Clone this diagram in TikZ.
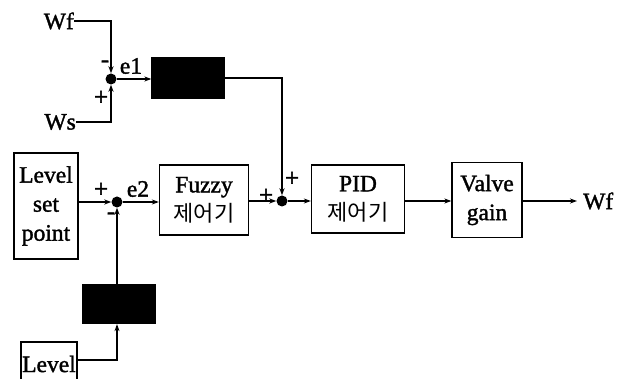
\documentclass[tikz,border=0pt]{standalone}
\usepackage{fontspec}
\setmainfont[FakeBold=1.5,AutoFakeBold=1.5]{Liberation Serif}
\newfontfamily\kr{Noto Sans CJK KR}
\usetikzlibrary{arrows.meta}
\begin{document}
\begin{tikzpicture}[x=1pt,y=-1pt,
  every node/.style={font=\fontsize{23.5}{29}\selectfont},
  blk/.style={draw,line width=1.3pt,align=center,inner sep=0pt},
  blackbox/.style={draw,fill=black,line width=1.3pt,inner sep=0pt,minimum width=72pt,minimum height=40pt},
  sumpt/.style={circle,fill=black,inner sep=0pt,minimum size=11pt},
  lbl/.style={inner sep=0pt},
  sgn/.style={inner sep=0pt,font=\fontsize{25}{25}\selectfont},
  arr/.style={line width=1.3pt,-{Stealth[length=7pt,width=5pt]}},
  ln/.style={line width=1.3pt}]
\useasboundingbox (0,0) rectangle (621,379);
\clip (0,0) rectangle (621,379);
% nodes
\node[lbl,anchor=east] (wfin) at (74,21) {Wf};
\node[lbl,anchor=east] (wsin) at (76,122) {Ws};
\node[sumpt] (sum1) at (111,79) {};
\node[blackbox] (box1) at (188,78) {};
\node[blk,minimum width=64pt,minimum height=106pt] (lsp) at (46,206) {Level\\set\\point};
\node[sumpt] (sum2) at (117,202) {};
\node[blk,minimum width=89pt,minimum height=70pt] (fuzzy) at (204,200) {Fuzzy\\{\kr\fontsize{22}{29}\selectfont 제어기}};
\node[sumpt] (sum3) at (282,201) {};
\node[blk,minimum width=93pt,minimum height=68pt] (pid) at (358,199) {PID\\{\kr\fontsize{22}{29}\selectfont 제어기}};
\node[blk,minimum width=70pt,minimum height=75pt] (valve) at (487,200) {Valve\\gain};
\node[lbl,anchor=west] (wfout) at (583,201) {Wf};
\node[blackbox,minimum height=39pt] (box2) at (119,304) {};
\node[blk,minimum width=56pt,minimum height=44pt] (level) at (49,364) {Level};
% labels
\node[lbl] (e1) at (131,66) {e1};
\node[lbl] (e2) at (138,189) {e2};
\node[sgn] (p1) at (101,98) {+};
\node[sgn] (m1) at (105,64) {-};
\node[sgn] (p2) at (101,190) {+};
\node[sgn] (m2) at (111,216) {-};
\node[sgn] (p3) at (266,196) {+};
\node[sgn] (p4) at (292,179) {+};
% connectors
\draw[arr] (wfin.east) -| (sum1.north);
\draw[arr] (wsin.east) -| (sum1.south);
\draw[arr] (sum1.east) -- (box1.west |- sum1);
\draw[arr] (box1.east) -| (sum3.north);
\draw[arr] (lsp.east |- sum2) -- (sum2.west);
\draw[arr] (sum2.east) -- (fuzzy.west |- sum2);
\draw[arr] (fuzzy.east |- sum3) -- (sum3.west);
\draw[arr] (sum3.east) -- (pid.west |- sum3);
\draw[arr] (pid.east |- sum3) -- (valve.west |- sum3);
\draw[arr,shorten >=6pt] (valve.east |- sum3) -- (wfout.west);
\draw[arr] (box2.north -| sum2) -- (sum2.south);
\draw[arr] (level.east |- 0,360) -| (box2.south -| sum2);
\end{tikzpicture}
\end{document}
